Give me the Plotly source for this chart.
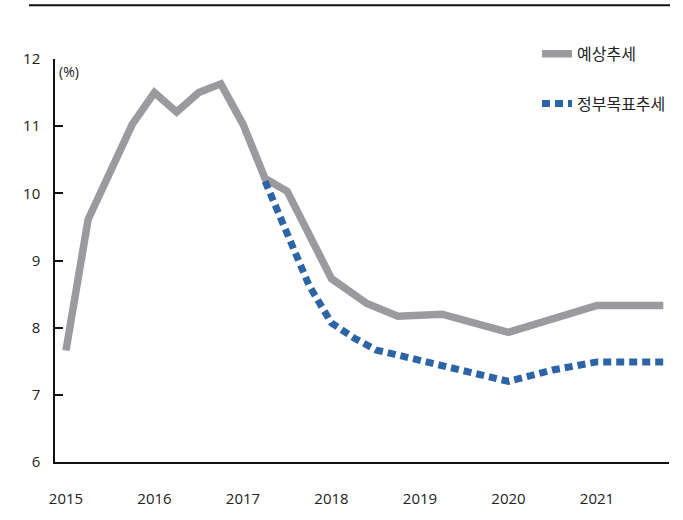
import plotly.graph_objects as go

# 예상추세 (forecast trend)
forecast_x = [2015.0, 2015.25, 2015.75, 2016.0, 2016.25, 2016.5, 2016.75, 2017.0,
              2017.25, 2017.5, 2018.0, 2018.4, 2018.75, 2019.25, 2020.0, 2020.5,
              2021.0, 2021.75]
forecast_y = [7.66, 9.61, 11.03, 11.5, 11.21, 11.5, 11.63, 11.03,
              10.22, 10.03, 8.73, 8.36, 8.17, 8.2, 7.93, 8.13,
              8.33, 8.33]

# 정부목표추세 (government target trend)
target_x = [2017.25, 2017.5, 2017.75, 2018.0, 2018.25, 2018.5, 2020.0, 2020.5,
            2021.0, 2021.75]
target_y = [10.18, 9.4, 8.62, 8.07, 7.85, 7.67, 7.2, 7.37, 7.49, 7.49]

year_ticks = [2015, 2016, 2017, 2018, 2019, 2020, 2021]
value_ticks = [6, 7, 8, 9, 10, 11, 12]

GRAY = "#9b9b9f"
BLUE = "#2c64a6"
KR_FONT = "Noto Sans CJK KR"
NUM_FONT = "Open Sans"

fig = go.Figure()
fig.add_trace(go.Scatter(
    x=forecast_x, y=forecast_y, mode="lines", name="예상추세",
    line=dict(color=GRAY, width=7.5), legendgroup="a",
))
fig.add_trace(go.Scatter(
    x=target_x, y=target_y, mode="lines", name="정부목표추세",
    line=dict(color=BLUE, width=7, dash="8px,5px"), legendgroup="b",
))

fig.update_layout(
    width=683, height=520,
    margin=dict(l=55, r=14, t=59, b=52),
    paper_bgcolor="white", plot_bgcolor="white",
    showlegend=True,
    legend=dict(
        x=0.785, y=1.055, xanchor="left", yanchor="top",
        font=dict(family=KR_FONT, size=16, color="#222"),
        tracegroupgap=26, bgcolor="rgba(0,0,0,0)",
    ),
    xaxis=dict(
        range=[2014.876, 2021.814], tickvals=year_ticks,
        ticktext=[str(t) for t in year_ticks],
        showgrid=False, zeroline=False, showline=True,
        linecolor="#111", linewidth=1.5, ticks="",
        ticklabelstandoff=22,
        tickfont=dict(family=NUM_FONT, size=15, color="#222"),
    ),
    yaxis=dict(
        range=[6, 12], tickvals=value_ticks,
        showgrid=False, zeroline=False, showline=True,
        linecolor="#111", linewidth=1.5,
        ticks="inside", ticklen=8, tickwidth=1.5, tickcolor="#111",
        ticklabelstandoff=10,
        tickfont=dict(family=NUM_FONT, size=15, color="#222"),
    ),
    annotations=[dict(
        text="(%)", xref="paper", yref="paper", x=0.003, y=0.997,
        xanchor="left", yanchor="top", showarrow=False,
        font=dict(family=NUM_FONT, size=14, color="#222"),
    )],
    shapes=[dict(
        type="line", xref="paper", yref="paper",
        x0=-26 / 614, x1=615 / 614, y0=(468 - 4.5) / 409, y1=(468 - 4.5) / 409,
        line=dict(color="#111", width=2),
    )],
)

fig.write_html("out.html")
